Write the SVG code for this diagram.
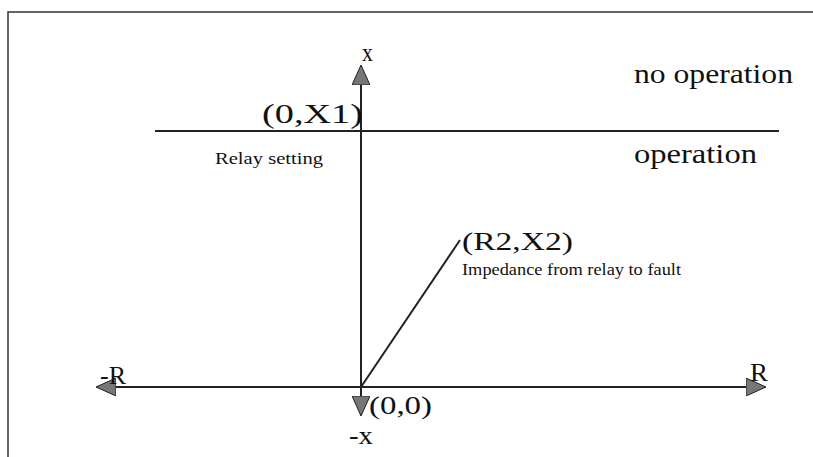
<svg xmlns="http://www.w3.org/2000/svg" width="813" height="457" viewBox="0 0 813 457">
<style>
.t{font-family:'Liberation Serif','DejaVu Serif',serif;fill:#111}
.ax{stroke:#222;stroke-width:2;fill:none}
.big{font-size:27px}
.med{font-size:26px}
.sm{font-size:16px}
</style>
<defs>
<marker id="ah" markerWidth="20" markerHeight="18" refX="19" refY="9" orient="auto" markerUnits="userSpaceOnUse">
<path d="M0,0 L20,9 L0,18 Z" fill="#777" stroke="#222" stroke-width="1"/>
</marker>
</defs>
<rect x="8" y="12" width="812" height="460" fill="none" stroke="#333" stroke-width="1.5"/>
<g id="connectors">
<line class="ax" x1="361" y1="390" x2="361" y2="66" marker-end="url(#ah)"/>
<line class="ax" x1="361" y1="380" x2="361" y2="415" marker-end="url(#ah)"/>
<line class="ax" x1="361" y1="387" x2="97" y2="387" marker-end="url(#ah)"/>
<line class="ax" x1="361" y1="387" x2="765" y2="387" marker-end="url(#ah)"/>
<line class="ax" x1="155" y1="131" x2="779" y2="131"/>
<line class="ax" x1="361" y1="387" x2="460" y2="240"/>
</g>
<g id="labels" font-family="Liberation Serif, serif">
<text class="t" x="362" y="61" font-size="25" textLength="11" lengthAdjust="spacingAndGlyphs">x</text>
<text class="t big" x="634" y="83" textLength="159" lengthAdjust="spacingAndGlyphs">no operation</text>
<text class="t big" x="262" y="123" textLength="101" lengthAdjust="spacingAndGlyphs">(0,X1)</text>
<text class="t sm" x="215" y="164" textLength="108" lengthAdjust="spacingAndGlyphs">Relay setting</text>
<text class="t big" x="634" y="163" textLength="123" lengthAdjust="spacingAndGlyphs">operation</text>
<text class="t med" x="462" y="250" textLength="111" lengthAdjust="spacingAndGlyphs">(R2,X2)</text>
<text class="t sm" x="462" y="275" textLength="219" lengthAdjust="spacingAndGlyphs">Impedance from relay to fault</text>
<text class="t med" x="100" y="384" textLength="26" lengthAdjust="spacingAndGlyphs">-R</text>
<text class="t med" x="750" y="381" textLength="18" lengthAdjust="spacingAndGlyphs">R</text>
<text class="t med" x="369" y="414" textLength="63" lengthAdjust="spacingAndGlyphs">(0,0)</text>
<text class="t" x="349" y="444" font-size="25" textLength="24" lengthAdjust="spacingAndGlyphs">-x</text>
</g>
</svg>
